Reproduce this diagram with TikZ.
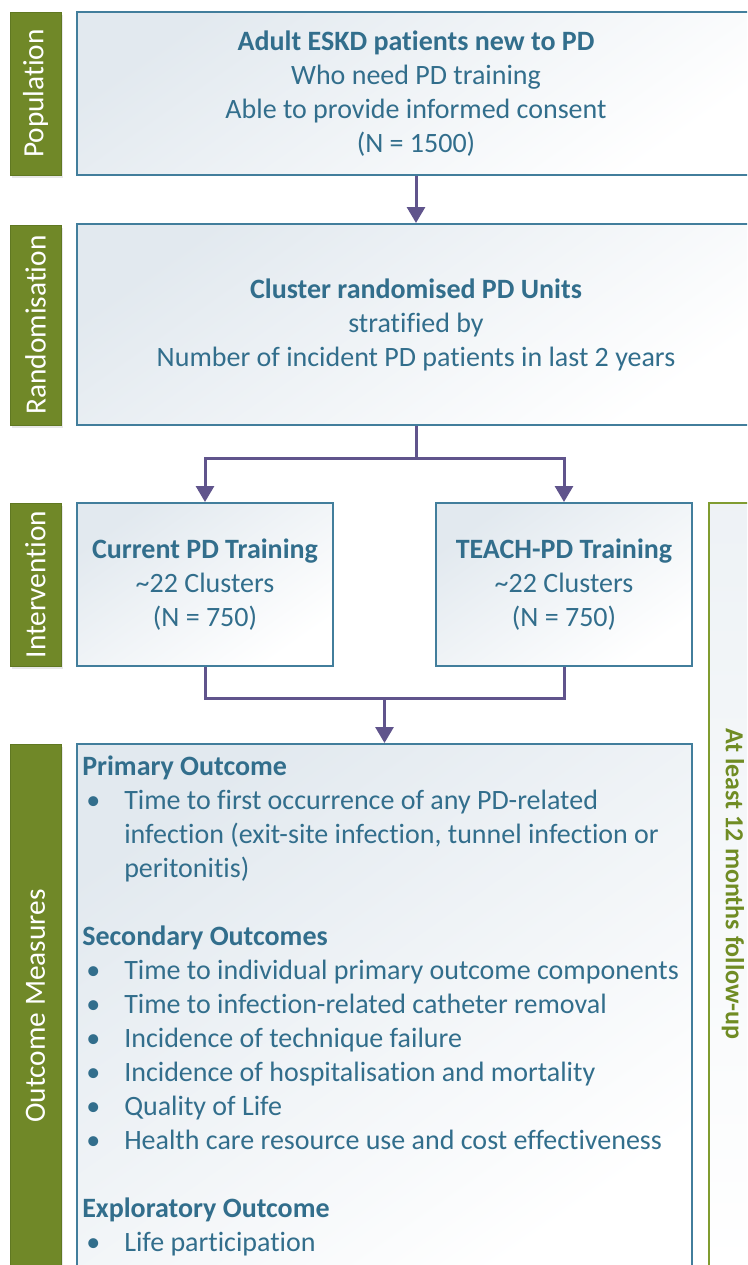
\documentclass[tikz,border=0pt]{standalone}
\usepackage{fontspec}
\setmainfont{Carlito}[Ligatures=NoCommon]
\usetikzlibrary{arrows.meta,shadows}

\definecolor{boxline}{RGB}{66,126,156}
\definecolor{boxtint}{RGB}{226,233,239}
\definecolor{ink}{RGB}{50,110,140}
\definecolor{flowc}{RGB}{96,84,140}
\definecolor{tabgreen}{RGB}{112,136,40}
\definecolor{tabline}{RGB}{96,120,34}
\definecolor{fupline}{RGB}{128,156,48}
\definecolor{fupink}{RGB}{112,140,36}

% bullet rows and their hanging continuation lines
\newcommand\bul[1]{\makebox[31.5pt][l]{\hspace{3pt}\textbullet}#1}
\newcommand\ind[1]{\hspace{31.5pt}#1}

\begin{document}
\begin{tikzpicture}[
  x=0.75pt, y=-0.75pt,
  >={Triangle[width=13.5pt,length=12pt]},
  every node/.style={font=\fontsize{21}{25.5}\selectfont},
  stagebox/.style={draw=boxline, line width=1.5pt, top color=boxtint, bottom color=white,
    shading angle=35, text=ink, align=center, inner sep=0pt},
  tab/.style={draw=tabline, fill=tabgreen, text=white, rotate=90, minimum height=38.25pt,
    font=\fontsize{22}{26}\selectfont,
    drop shadow={opacity=.18, shadow xshift=1.5pt, shadow yshift=-2pt}},
  flow/.style={draw=flowc, line width=2.25pt}
]
  \clip (0,0) rectangle (747,1265);

  % phase tabs down the left side
  \node[tab, minimum width=122.25pt] (poptab) at (35.5,93.5) {Population};
  \node[tab, minimum width=150pt] (randtab) at (35.5,325) {Randomisation};
  \node[tab, minimum width=122.25pt] (inttab) at (35.5,584.5) {Intervention};
  \node[tab, minimum width=393pt] (outtab) at (35.5,1006) {Outcome Measures};

  % flow boxes
  \node[stagebox, minimum width=508.5pt, minimum height=122.25pt] (pop) at (416,93.5)
    {\textbf{Adult ESKD patients new to PD}\\Who need PD training\\
     Able to provide informed consent\\(N = 1500)};
  \node[stagebox, minimum width=508.5pt, minimum height=150.75pt] (rand) at (416,324.5)
    {\textbf{Cluster randomised PD Units}\\stratified by\\
     Number of incident PD patients in last 2 years};
  \node[stagebox, minimum width=192pt, minimum height=122.25pt] (cur) at (205,584.5)
    {\textbf{Current PD Training}\\\textasciitilde22 Clusters\\(N = 750)};
  \node[stagebox, minimum width=192pt, minimum height=122.25pt] (teach) at (564,584.5)
    {\textbf{TEACH-PD Training}\\\textasciitilde22 Clusters\\(N = 750)};
  \node[stagebox, minimum width=461.25pt, minimum height=393pt] (outbox) at (384.5,1006) {};
  \node[text=ink, align=left, anchor=north west, inner sep=0pt] (outtext) at (82,751)
    {\strut\textbf{Primary Outcome}\\
     \bul{Time to first occurrence of any PD-related}\\
     \ind{infection (exit-site infection, tunnel infection or}\\
     \ind{peritonitis)}\\[25.5pt]
     \textbf{Secondary Outcomes}\\
     \bul{Time to individual primary outcome components}\\
     \bul{Time to infection-related catheter removal}\\
     \bul{Incidence of technique failure}\\
     \bul{Incidence of hospitalisation and mortality}\\
     \bul{Quality of Life}\\
     \bul{Health care resource use and cost effectiveness}\\[25.5pt]
     \textbf{Exploratory Outcome}\\
     \bul{Life participation}};

  % follow-up bracket on the right
  \node[draw=fupline, line width=1.5pt, top color=boxtint!60, bottom color=white,
    minimum width=36pt, minimum height=574.5pt] (fup) at (733,885.5) {};
  \node[text=fupink, rotate=-90, font=\fontsize{19.5}{24}\selectfont\bfseries] (fuptext)
    at (733,884) {At least 12 months follow-up};

  % connectors
  \coordinate (split) at (416,458);
  \coordinate (join) at (384.5,698);
  \draw[flow, ->] (pop) -- (rand);
  \draw[flow] (rand.south) -- (split);
  \draw[flow, ->] (split) -| (cur.north);
  \draw[flow, ->] (split) -| (teach.north);
  \draw[flow] (cur.south) |- (join) -| (teach.south);
  \draw[flow, ->] (join) -- (outbox.north);
\end{tikzpicture}
\end{document}
